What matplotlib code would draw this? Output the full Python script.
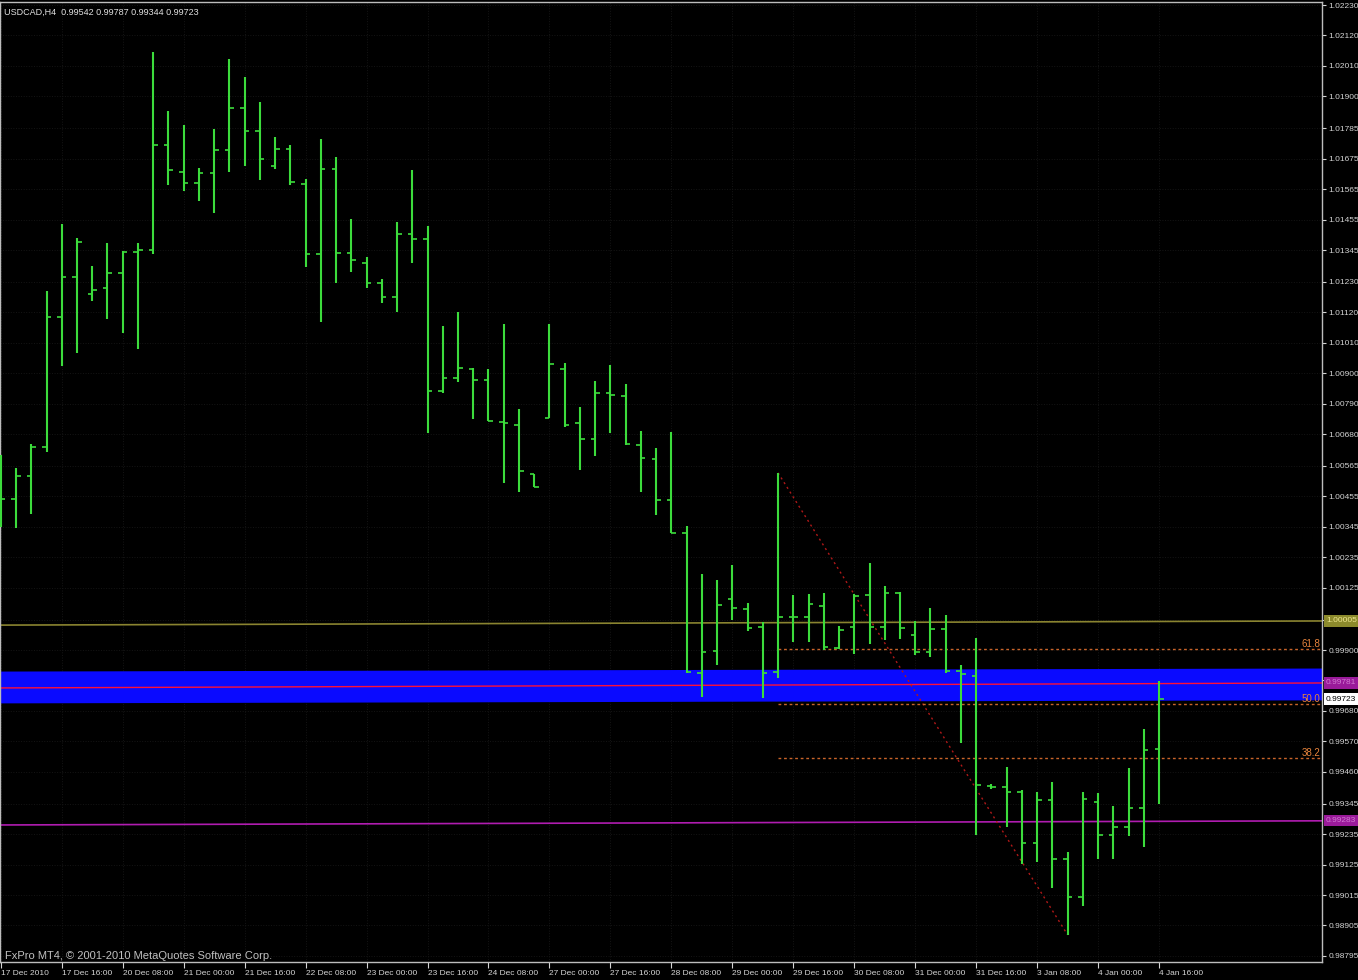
import matplotlib
matplotlib.use('Agg')
import matplotlib.pyplot as plt
from matplotlib import transforms

plt.rcParams['font.family'] = ['Liberation Sans', 'DejaVu Sans']

# USDCAD H4 bars, 17 Dec 2010 00:00 .. 4 Jan 2011 16:00
opens = [1.00550, 1.00446, 1.00529, 1.00633, 1.01103, 1.01248, 1.01186, 1.01208, 1.01262, 1.01338,
         1.01345, 1.01724, 1.01627, 1.01587, 1.01623, 1.01706, 1.01858, 1.01775, 1.01648, 1.01710,
         1.01583, 1.01331, 1.01638, 1.01334, 1.01298, 1.01226, 1.01175, 1.01403, 1.01385, 1.00836,
         1.00883, 1.00915, 1.00875, 1.00724, 1.00713, 1.00536, 1.00738, 1.00915, 1.00720, 1.00662,
         1.00829, 1.00818, 1.00641, 1.00590, 1.00442, 1.00323, 0.99817, 0.99897, 1.00084, 1.00048,
         0.99983, 0.99821, 1.00019, 1.00019, 1.00059, 0.99908, 0.99983, 1.00099, 0.99983, 1.00106,
         0.99954, 0.99893, 0.99976, 0.99824, 0.99806, 0.99409, 0.99405, 0.99387, 0.99203, 0.99358,
         0.99145, 0.99008, 0.99351, 0.99232, 0.99261, 0.99329, 0.99542]
highs = [1.00605, 1.00558, 1.00644, 1.01197, 1.01439, 1.01388, 1.01287, 1.01370, 1.01341, 1.01370,
         1.02060, 1.01847, 1.01797, 1.01641, 1.01782, 1.02035, 1.01970, 1.01880, 1.01753, 1.01724,
         1.01601, 1.01746, 1.01681, 1.01457, 1.01320, 1.01240, 1.01446, 1.01634, 1.01432, 1.01071,
         1.01121, 1.00919, 1.00915, 1.01078, 1.00771, 1.00536, 1.01078, 1.00937, 1.00778, 1.00872,
         1.00930, 1.00861, 1.00691, 1.00630, 1.00688, 1.00348, 1.00175, 1.00153, 1.00207, 1.00070,
         1.00001, 1.00540, 1.00099, 1.00102, 1.00106, 0.99987, 1.00102, 1.00214, 1.00131, 1.00110,
         1.00005, 1.00052, 1.00027, 0.99846, 0.99944, 0.99416, 0.99478, 0.99394, 0.99387, 0.99423,
         0.99171, 0.99387, 0.99384, 0.99337, 0.99474, 0.99615, 0.99787]
lows = [1.00345, 1.00341, 1.00391, 1.00615, 1.00926, 1.00973, 1.01161, 1.01096, 1.01045, 1.00987,
        1.01331, 1.01580, 1.01558, 1.01522, 1.01479, 1.01627, 1.01648, 1.01598, 1.01638, 1.01580,
        1.01284, 1.01085, 1.01226, 1.01266, 1.01208, 1.01154, 1.01121, 1.01298, 1.00684, 1.00829,
        1.00868, 1.00735, 1.00727, 1.00503, 1.00471, 1.00489, 1.00738, 1.00706, 1.00550, 1.00601,
        1.00684, 1.00641, 1.00471, 1.00388, 1.00323, 0.99817, 0.99730, 0.99846, 1.00009, 0.99969,
        0.99727, 0.99799, 0.99929, 0.99929, 0.99900, 0.99904, 0.99886, 0.99922, 0.99936, 0.99940,
        0.99882, 0.99875, 0.99817, 0.99564, 0.99232, 0.99398, 0.99261, 0.99127, 0.99135, 0.99041,
        0.98871, 0.98976, 0.99145, 0.99145, 0.99228, 0.99189, 0.99344]
closes = [1.00446, 1.00529, 1.00633, 1.01103, 1.01248, 1.01374, 1.01201, 1.01262, 1.01338, 1.01345,
          1.01724, 1.01634, 1.01587, 1.01623, 1.01706, 1.01858, 1.01775, 1.01674, 1.01710, 1.01591,
          1.01331, 1.01638, 1.01334, 1.01309, 1.01226, 1.01175, 1.01403, 1.01385, 1.00836, 1.00883,
          1.00919, 1.00875, 1.00727, 1.00720, 1.00547, 1.00489, 1.00933, 1.00713, 1.00662, 1.00829,
          1.00821, 1.00644, 1.00594, 1.00442, 1.00323, 0.99821, 0.99893, 1.00063, 1.00052, 0.99980,
          0.99817, 1.00019, 1.00019, 1.00066, 0.99911, 0.99972, 1.00095, 0.99983, 1.00106, 0.99980,
          0.99893, 0.99976, 0.99824, 0.99813, 0.99413, 0.99405, 0.99387, 0.99203, 0.99358, 0.99145,
          0.99008, 0.99362, 0.99232, 0.99261, 0.99329, 0.99540, 0.99723]

time_labels = ['17 Dec 2010', '17 Dec 16:00', '20 Dec 08:00', '21 Dec 00:00', '21 Dec 16:00',
               '22 Dec 08:00', '23 Dec 00:00', '23 Dec 16:00', '24 Dec 08:00', '27 Dec 00:00',
               '27 Dec 16:00', '28 Dec 08:00', '29 Dec 00:00', '29 Dec 16:00', '30 Dec 08:00',
               '31 Dec 00:00', '31 Dec 16:00', '3 Jan 08:00', '4 Jan 00:00', '4 Jan 16:00']
time_label_bars = list(range(0, 77, 4))

price_ticks = [1.02230, 1.02120, 1.02010, 1.01900, 1.01785, 1.01675, 1.01565, 1.01455, 1.01345,
               1.01230, 1.01120, 1.01010, 1.00900, 1.00790, 1.00680, 1.00565, 1.00455, 1.00345,
               1.00235, 1.00125, 1.00010, 0.99900, 0.99790, 0.99680, 0.99570, 0.99460, 0.99345,
               0.99235, 0.99125, 0.99015, 0.98905, 0.98795]

# drawn objects: (price at left edge, price at right edge)
olive_line = (0.99990, 1.00005)
red_line = (0.99763, 0.99781)
magenta_line = (0.99268, 0.99283)
blue_zone_low = (0.99709, 0.99720)
blue_zone_high = (0.99824, 0.99835)

fib_from_bar = 51
fib_to_bar = 70
fib_levels = [61.8, 50.0, 38.2]

GREEN = '#3cdc3c'
AXC = '#d4d4d4'

XMIN, XMAX = -0.052, 86.69
YMIN, YMAX = 0.98773, 1.02241


def draw_bars(ax):
    x = list(range(len(opens)))
    ax.vlines(x, lows, highs, colors=GREEN, linewidth=1.5, zorder=5)
    ax.hlines(opens, [i - 0.3 for i in x], x, colors=GREEN, linewidth=1.2, zorder=5)
    ax.hlines(closes, x, [i + 0.3 for i in x], colors=GREEN, linewidth=1.2, zorder=5)


def draw_objects(ax):
    ax.fill_between([XMIN, XMAX], blue_zone_low, blue_zone_high, color='#0a0aff',
                    linewidth=0, zorder=1)
    ax.plot([XMIN, XMAX], olive_line, color='#8a8430', linewidth=1.2, zorder=2)
    ax.plot([XMIN, XMAX], red_line, color='#ff1038', linewidth=1.0, zorder=2)
    ax.plot([XMIN, XMAX], magenta_line, color='#b01cb0', linewidth=1.2, zorder=2)

    hi = highs[fib_from_bar]
    lo = lows[fib_to_bar]
    ax.plot([fib_from_bar, fib_to_bar], [hi, lo], color='#b01818', linewidth=1.0,
            linestyle=(0, (1.5, 2.5)), zorder=3)
    for lev in fib_levels:
        p = lo + (hi - lo) * lev / 100.0
        ax.plot([fib_from_bar, XMAX], [p, p], color='#c8642a', linewidth=1.0,
                linestyle=(0, (2, 2)), zorder=3)
        ax.text(XMAX - 0.1, p, '%.1f' % lev, color='#e8843c', fontsize=7,
                ha='right', va='bottom', zorder=6)


def price_box(ax, price, fc, tc):
    tr = transforms.blended_transform_factory(ax.transAxes, ax.transData)
    ax.text(1.003, price, '%.5f' % price, transform=tr, fontsize=6, color=tc,
            ha='left', va='center', clip_on=False, zorder=10,
            bbox=dict(boxstyle='square,pad=0.25', fc=fc, ec='none'))


fig = plt.figure(figsize=(13.58, 9.8), dpi=100, facecolor='black')
ax = fig.add_axes([0, 18 / 980, 1322 / 1358, 960 / 980])
ax.set_facecolor('black')

draw_objects(ax)
draw_bars(ax)

ax.set_xlim(XMIN, XMAX)
ax.set_ylim(YMIN, YMAX)

ax.set_xticks(time_label_bars)
ax.set_xticklabels(time_labels, ha='left')
ax.set_yticks(price_ticks)
ax.set_yticklabels(['%.5f' % p for p in price_ticks])
ax.yaxis.tick_right()
ax.tick_params(axis='y', colors=AXC, length=3, width=0.8, pad=1.5, labelsize=6)
ax.tick_params(axis='x', colors=AXC, length=4, width=0.8, pad=1.5, labelsize=6)
ax.grid(True, color='#151515', linestyle=':', linewidth=0.7)
ax.set_axisbelow(True)
for s in ax.spines.values():
    s.set_color('#bdbdbd')
    s.set_linewidth(1.0)

price_box(ax, olive_line[1], '#8c8a2c', '#f0e890')
price_box(ax, red_line[1], '#9a1a9a', '#d27ad2')
price_box(ax, closes[-1], 'white', 'black')
price_box(ax, magenta_line[1], '#9a1a9a', '#d27ad2')

fig.text(4 / 1358, 1 - 12 / 980, 'USDCAD,H4  %.5f %.5f %.5f %.5f' % (opens[-1], highs[-1], lows[-1], closes[-1]),
         color='#e0e0e0', fontsize=6.5, va='center', ha='left')
fig.text(5 / 1358, 1 - 956 / 980, 'FxPro MT4, \u00a9 2001-2010 MetaQuotes Software Corp.',
         color='#c0c0c0', fontsize=8, va='center', ha='left')

fig.savefig('out.png', dpi=100, facecolor='black')
